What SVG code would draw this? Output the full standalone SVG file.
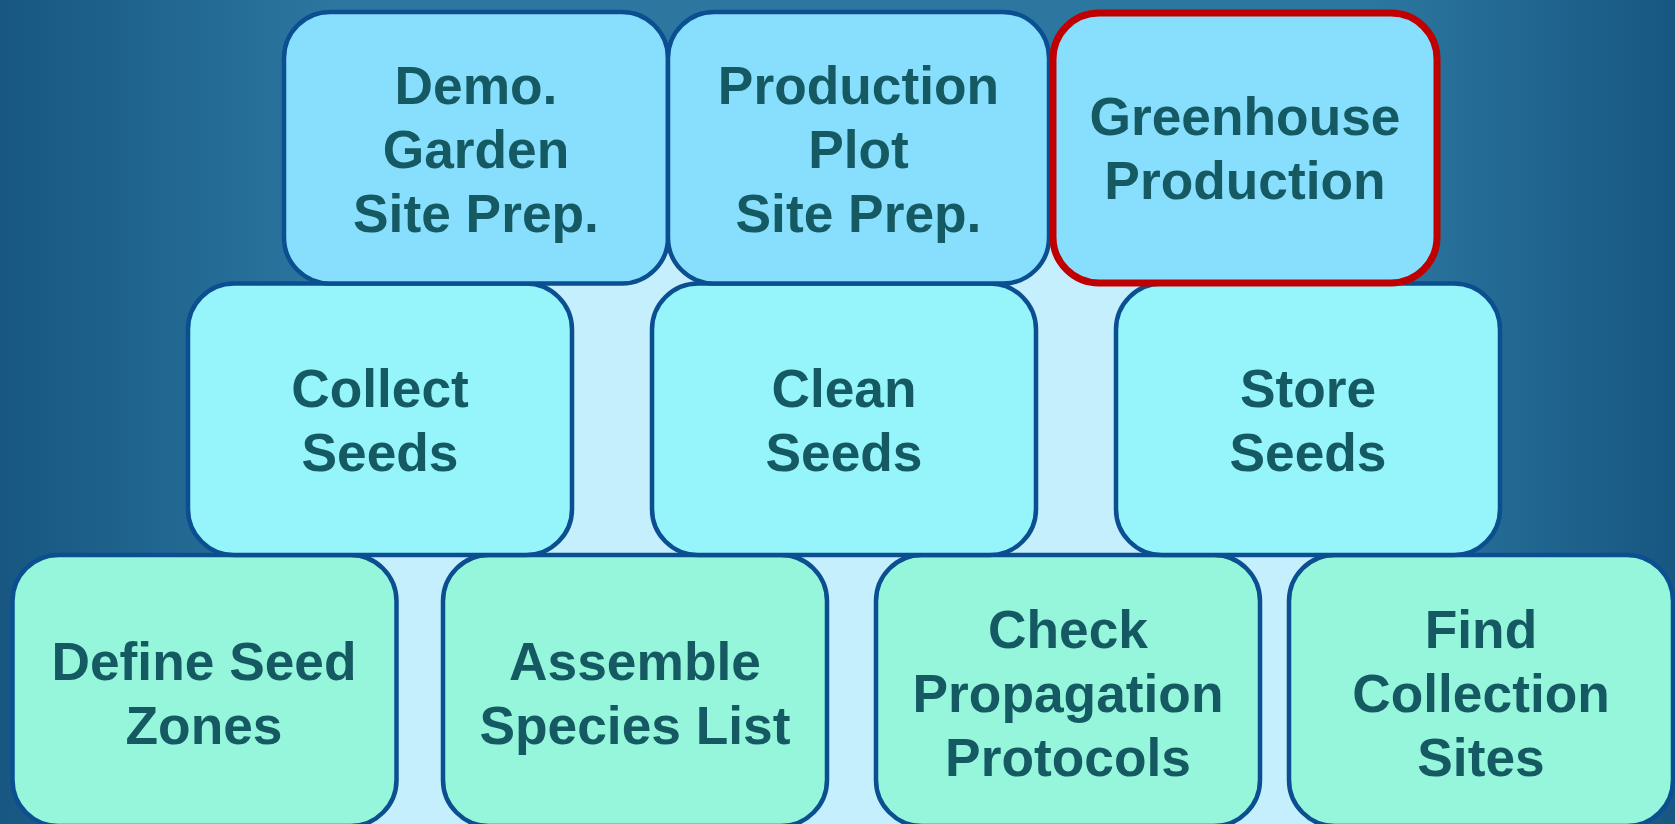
<svg xmlns="http://www.w3.org/2000/svg" width="1675" height="824" viewBox="0 0 1675 824">
<defs>
<linearGradient id="bg" x1="0" y1="0" x2="1" y2="0">
<stop offset="0" stop-color="#175781"/>
<stop offset="0.2" stop-color="#2b77a0"/>
<stop offset="0.82" stop-color="#2b77a0"/>
<stop offset="1" stop-color="#175781"/>
</linearGradient>
</defs>
<style>
.box{stroke:#0b4f91;stroke-width:4.5}
.r1{fill:#88dffd}
.r2{fill:#95f5fb}
.r3{fill:#95f6dc}
.hl{stroke:#c00000;stroke-width:7}
text{font-family:"Liberation Sans",Arial,sans-serif;font-weight:bold;font-size:53.3px;fill:#155963;text-anchor:middle}
</style>
<rect x="0" y="0" width="1675" height="824" fill="url(#bg)"/>
<rect x="320" y="100" width="1080" height="724" fill="#c6effe"/>
<g id="connectors"></g>
<g id="define">
<rect class="box r3" x="12.5" y="555" width="384" height="271" rx="46"/>
<text x="204" y="680">Define Seed</text>
<text x="204" y="744">Zones</text>
</g>
<g id="assemble">
<rect class="box r3" x="443" y="555" width="384" height="271" rx="46"/>
<text x="635" y="680">Assemble</text>
<text x="635" y="744">Species List</text>
</g>
<g id="check">
<rect class="box r3" x="876" y="555" width="384" height="271" rx="46"/>
<text x="1068" y="648">Check</text>
<text x="1068" y="712">Propagation</text>
<text x="1068" y="776">Protocols</text>
</g>
<g id="find">
<rect class="box r3" x="1289" y="555" width="384" height="271" rx="46"/>
<text x="1481" y="648">Find</text>
<text x="1481" y="712">Collection</text>
<text x="1481" y="776">Sites</text>
</g>
<g id="collect">
<rect class="box r2" x="188" y="283.5" width="384" height="271.5" rx="46"/>
<text x="380" y="407">Collect</text>
<text x="380" y="471">Seeds</text>
</g>
<g id="clean">
<rect class="box r2" x="652" y="283.5" width="384" height="271.5" rx="46"/>
<text x="844" y="407">Clean</text>
<text x="844" y="471">Seeds</text>
</g>
<g id="store">
<rect class="box r2" x="1116" y="283.5" width="384" height="271.5" rx="46"/>
<text x="1308" y="407">Store</text>
<text x="1308" y="471">Seeds</text>
</g>
<g id="demo">
<rect class="box r1" x="284" y="12" width="384" height="271.5" rx="46"/>
<text x="476" y="104">Demo.</text>
<text x="476" y="168">Garden</text>
<text x="476" y="232">Site Prep.</text>
</g>
<g id="production">
<rect class="box r1" x="668" y="12" width="381" height="271.5" rx="46"/>
<text x="858.5" y="104">Production</text>
<text x="858.5" y="168">Plot</text>
<text x="858.5" y="232">Site Prep.</text>
</g>
<g id="greenhouse">
<rect class="box r1 hl" x="1053" y="13" width="384" height="270" rx="46"/>
<text x="1245" y="135">Greenhouse</text>
<text x="1245" y="199">Production</text>
</g>
</svg>
